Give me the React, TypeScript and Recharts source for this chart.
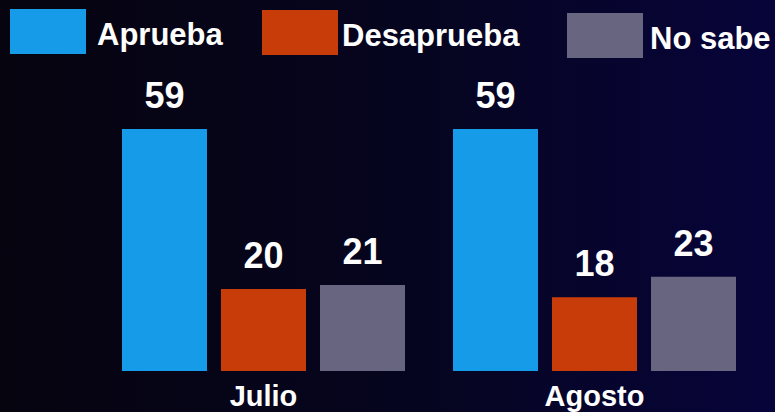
import React from "react";
import { BarChart, Bar, XAxis, YAxis, LabelList } from "recharts";

const months = ["Julio", "Agosto"];
const aprueba = [59, 59];
const desaprueba = [20, 18];
const noSabe = [21, 23];

const seriesNames = ["Aprueba", "Desaprueba", "No sabe"];
const seriesColors = ["#169be8", "#c83c0a", "#676580"];

const data = months.map((m, i) => ({
  month: m,
  Aprueba: aprueba[i],
  Desaprueba: desaprueba[i],
  "No sabe": noSabe[i],
}));

const FONT = "'Liberation Sans', Arial, Helvetica, sans-serif";

const legendOffsets = [10, 262, 567];
const legendTops = [9, 10, 13];
const legendTextGap = [11, 4, 7];

const LegendOverlay = () => (
  <div style={{ position: "absolute", left: 0, top: 0, width: 775, height: 60 }}>
    {seriesNames.map((n, i) => (
      <div
        key={n}
        style={{
          position: "absolute",
          left: legendOffsets[i],
          top: legendTops[i],
          display: "flex",
          alignItems: "center",
          whiteSpace: "nowrap",
        }}
      >
        <div style={{ width: 76, height: 45, background: seriesColors[i] }} />
        <span
          style={{
            marginLeft: legendTextGap[i],
            marginTop: 6,
            color: "#ffffff",
            fontFamily: FONT,
            fontWeight: 700,
            fontSize: 31,
            lineHeight: "34px",
          }}
        >
          {n}
        </span>
      </div>
    ))}
  </div>
);

const Tick = (props: any) => {
  const { x, payload } = props;
  return (
    <text
      x={x}
      y={406}
      textAnchor="middle"
      fill="#ffffff"
      fontFamily={FONT}
      fontWeight={700}
      fontSize={29}
    >
      {payload.value}
    </text>
  );
};

const renderLabel = (props: any) => {
  const { x, y, width, value } = props;
  return (
    <text
      x={x + width / 2}
      y={y - 21}
      textAnchor="middle"
      fill="#ffffff"
      fontFamily={FONT}
      fontWeight={700}
      fontSize={36}
    >
      {value}
    </text>
  );
};

export default function App() {
  return (
    <div
      style={{
        position: "absolute",
        left: 0,
        top: 0,
        width: 775,
        height: 412,
        overflow: "hidden",
        background: "linear-gradient(90deg, #06040f 0%, #060520 55%, #07043a 100%)",
      }}
    >
      <BarChart
        width={775}
        height={412}
        data={data}
        margin={{ top: 125, right: 15, bottom: 0, left: 98 }}
        barCategoryGap={24}
        barGap={14}
      >
        <XAxis
          dataKey="month"
          axisLine={false}
          tickLine={false}
          tick={<Tick />}
          height={41}
        />
        <YAxis hide domain={[0, 60]} width={0} />
        {seriesNames.map((n, i) => (
          <Bar key={n} dataKey={n} fill={seriesColors[i]} isAnimationActive={false}>
            <LabelList dataKey={n} content={renderLabel} />
          </Bar>
        ))}
      </BarChart>
      <LegendOverlay />
    </div>
  );
}
